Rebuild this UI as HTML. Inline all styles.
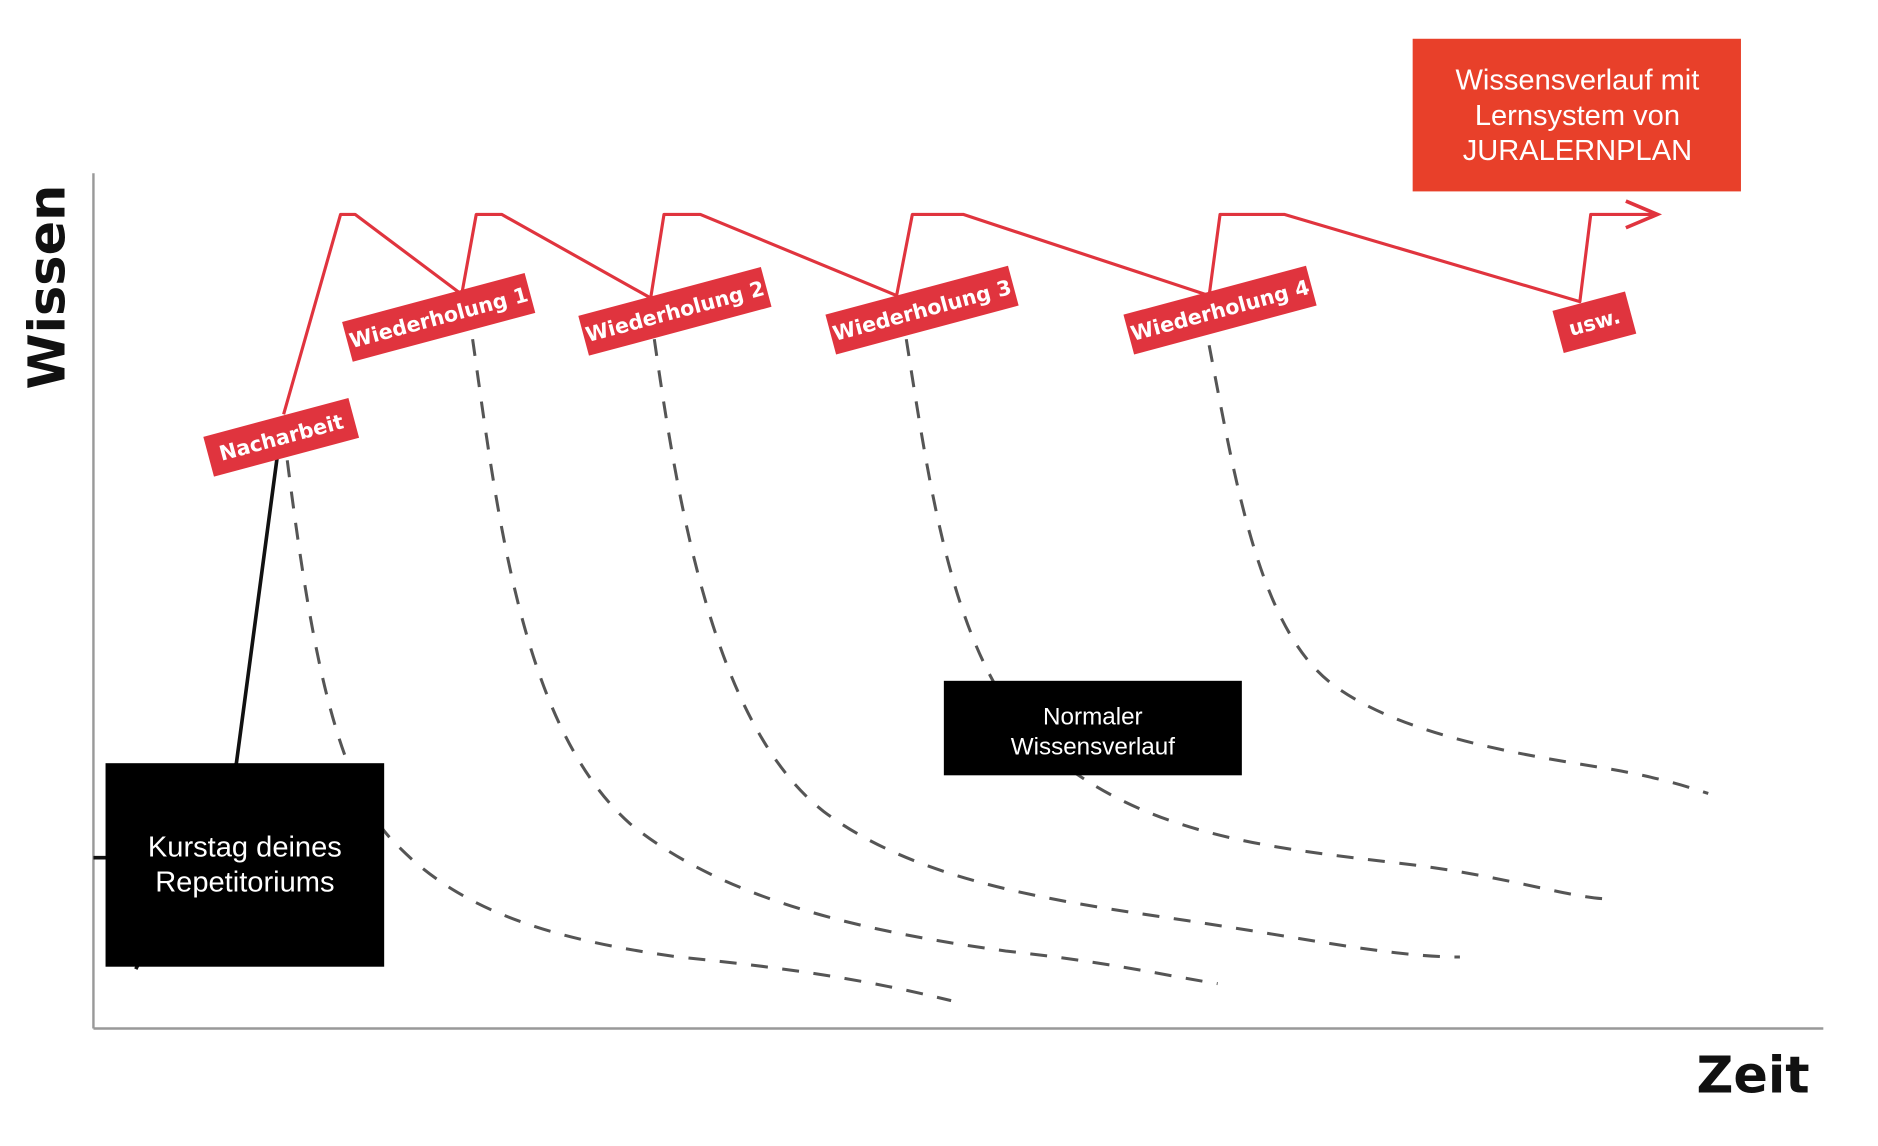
<!DOCTYPE html>
<html><head><meta charset="utf-8"><style>
html,body{margin:0;padding:0;background:#fff;width:1878px;height:1146px;overflow:hidden}
svg{display:block}
</style></head><body>
<svg width="1878" height="1146" viewBox="0 0 1550 946" xmlns="http://www.w3.org/2000/svg" font-family="'Liberation Sans', sans-serif">
<!-- axes -->
<line x1="77" y1="143" x2="77" y2="849" stroke="#999" stroke-width="2"/>
<line x1="77" y1="849" x2="1505" y2="849" stroke="#999" stroke-width="2"/>
<text x="0" y="0" transform="translate(53,237) rotate(-90)" text-anchor="middle" font-family="'DejaVu Sans', sans-serif" font-weight="bold" font-size="42" fill="#111">Wissen</text>
<text x="1447" y="902" text-anchor="middle" font-family="'DejaVu Sans', sans-serif" font-weight="bold" font-size="42" fill="#111">Zeit</text>

<!-- dashed curves -->
<g fill="none" stroke="#555" stroke-width="2.5" stroke-dasharray="14 12">
<path d="M237,380 C255,520 275,650 330,700 C380,750 450,775 560,790 C660,800 720,810 785,826"/>
<path d="M390,280 C410,420 430,600 520,680 C600,745 720,770 830,785 C920,795 960,805 1005,812"/>
<path d="M540,280 C560,420 590,600 680,670 C760,730 880,745 980,760 C1080,775 1150,790 1205,790"/>
<path d="M748,280 C770,420 790,560 870,625 C950,690 1050,700 1150,712 C1240,722 1290,740 1325,742"/>
<path d="M998,285 C1020,400 1040,520 1100,565 C1160,610 1270,625 1330,635 C1370,642 1395,650 1410,655"/>
</g>

<!-- black line -->
<polyline points="112,800 195,630 229,375" fill="none" stroke="#111" stroke-width="3"/>
<line x1="77" y1="708" x2="90" y2="708" stroke="#111" stroke-width="3"/>

<!-- red path -->
<polyline points="234,342 281,177 293,177 381,243 393,177 414,177 537,246 548,177 578,177 740,244 753,177 795,177 998,244 1007,177 1060,177 1304,249 1313,177 1364,177" fill="none" stroke="#e0343e" stroke-width="2.6" stroke-linejoin="round"/>
<polyline points="1342,166 1368,177 1342,188" fill="none" stroke="#e0343e" stroke-width="3"/>

<!-- labels -->
<g font-family="'DejaVu Sans', sans-serif" font-weight="bold" font-size="17" fill="#fff" text-anchor="middle">
<g transform="translate(232,361) rotate(-15)"><rect x="-62" y="-17" width="124" height="34" fill="#e0343e"/><text y="6">Nacharbeit</text></g>
<g transform="translate(362,262) rotate(-15)"><rect x="-78" y="-17" width="156" height="34" fill="#e0343e"/><text y="6">Wiederholung 1</text></g>
<g transform="translate(557,257) rotate(-15)"><rect x="-78" y="-17" width="156" height="34" fill="#e0343e"/><text y="6">Wiederholung 2</text></g>
<g transform="translate(761,256) rotate(-15)"><rect x="-78" y="-17" width="156" height="34" fill="#e0343e"/><text y="6">Wiederholung 3</text></g>
<g transform="translate(1007,256) rotate(-15)"><rect x="-78" y="-17" width="156" height="34" fill="#e0343e"/><text y="6">Wiederholung 4</text></g>
<g transform="translate(1316,266) rotate(-15)"><rect x="-31" y="-18" width="62" height="36" fill="#e0343e"/><text y="6">usw.</text></g>
</g>

<!-- boxes -->
<rect x="1166" y="32" width="271" height="126" fill="#e8402a"/>
<g font-size="24" fill="#fff" text-anchor="middle">
<text x="1302" y="74">Wissensverlauf mit</text>
<text x="1302" y="103">Lernsystem von</text>
<text x="1302" y="132">JURALERNPLAN</text>
</g>
<rect x="87" y="630" width="230" height="168" fill="#000"/>
<g font-size="24" fill="#fff" text-anchor="middle">
<text x="202" y="707">Kurstag deines</text>
<text x="202" y="736">Repetitoriums</text>
</g>
<rect x="779" y="562" width="246" height="78" fill="#000"/>
<g font-size="20" fill="#fff" text-anchor="middle">
<text x="902" y="598">Normaler</text>
<text x="902" y="623">Wissensverlauf</text>
</g>
</svg>
</body></html>
